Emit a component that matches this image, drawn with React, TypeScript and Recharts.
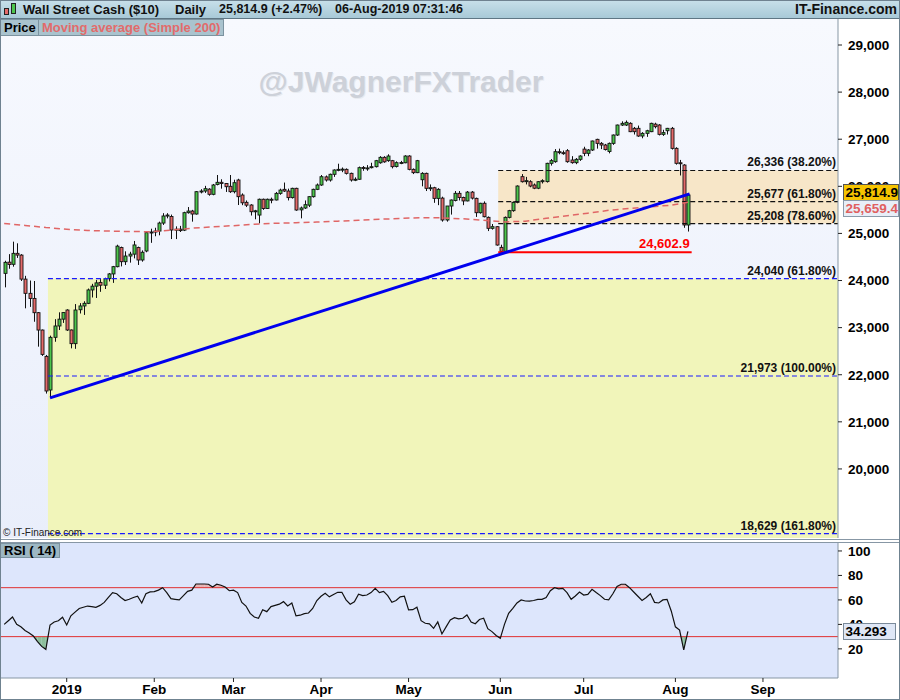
import React from 'react';
import { ComposedChart, Bar, Line, XAxis, YAxis, ReferenceLine, ReferenceArea } from 'recharts';

// Wall Street Cash daily, one row per trading day (10-Dec-2018 .. 06-Aug-2019)
// [open, high, low, close]
const candles: [number, number, number, number][] = [
  [24152, 24420, 23855, 24386], [24390, 24560, 24250, 24340], [24344, 24825, 24294, 24577], [24577, 24790, 24480, 24540],
  [24540, 24560, 23990, 24030], [24030, 24100, 23410, 23728], [23728, 24000, 23440, 23620], [23620, 23990, 23125, 23317],
  [23317, 23330, 22596, 22949], [22949, 22960, 22400, 22432], [22390, 22420, 21600, 21655], [21676, 22830, 21510, 22794],
  [22794, 23180, 22700, 23035], [23035, 23325, 22950, 23180], [23180, 23330, 23100, 23320],
  [23374, 23390, 22930, 22950], [22950, 22960, 22560, 22660], [22660, 23500, 22550, 23374], [23380, 23520, 23300, 23460],
  [23460, 23560, 23270, 23516], [23516, 23830, 23500, 23800], [23800, 23930, 23640, 23880], [23880, 24011, 23630, 23950],
  [23960, 24030, 23760, 23900], [23900, 24060, 23820, 24040], [24040, 24160, 23980, 24140], [24140, 24310, 23950, 24294],
  [24294, 24760, 24280, 24730], [24700, 24720, 24300, 24400], [24400, 24620, 24330, 24520], [24520, 24610, 24380, 24560],
  [24560, 24840, 24470, 24755], [24700, 24720, 24330, 24436], [24436, 24640, 24400, 24600], [24627, 25040, 24600, 25016],
  [25030, 25100, 24800, 25010],
  [25030, 25120, 24940, 25050], [25050, 25250, 24960, 25220], [25220, 25430, 25180, 25370], [25370, 25430, 25320, 25390],
  [25360, 25400, 24880, 25072], [25072, 25150, 24880, 25090], [25090, 25160, 25030, 25060], [25070, 25460, 25050, 25440],
  [25440, 25560, 25420, 25475], [25475, 25500, 25250, 25412], [25412, 25900, 25400, 25886], [25886, 25940, 25850, 25900],
  [25900, 26010, 25860, 25950], [25940, 25960, 25800, 25830], [25830, 26050, 25810, 26028], [26040, 26240, 26020, 26085],
  [26085, 26150, 25950, 26060], [26060, 26070, 25880, 25992], [26000, 26240, 25860, 25886],
  [25886, 26140, 25850, 26077], [26134, 26160, 25603, 25780], [25815, 25850, 25600, 25650], [25660, 25700, 25560, 25600],
  [25603, 25620, 25380, 25461], [25461, 25500, 25300, 25480], [25390, 25740, 25214, 25725], [25725, 25740, 25500, 25530],
  [25530, 25740, 25520, 25725], [25725, 25760, 25640, 25710], [25710, 25880, 25700, 25850], [25850, 25950, 25820, 25920],
  [25936, 26080, 25880, 25900], [25900, 25950, 25700, 25760], [25760, 25970, 25740, 25957], [25957, 25970, 25480, 25497],
  [25500, 25570, 25320, 25540], [25540, 25700, 25520, 25610], [25600, 25790, 25560, 25780], [25780, 25950, 25760, 25936],
  [25936, 26060, 25920, 26028],
  [26028, 26240, 26010, 26204], [26200, 26230, 26100, 26134], [26134, 26270, 26100, 26255], [26255, 26360, 26200, 26346],
  [26346, 26480, 26320, 26360], [26360, 26400, 26300, 26365], [26360, 26380, 26250, 26275], [26275, 26290, 26100, 26134],
  [26140, 26190, 26110, 26150], [26150, 26420, 26140, 26396], [26400, 26430, 26330, 26380], [26380, 26450, 26330, 26390],
  [26400, 26500, 26380, 26417], [26417, 26560, 26400, 26544], [26500, 26640, 26480, 26615], [26615, 26640, 26500, 26520],
  [26545, 26680, 26520, 26643], [26544, 26560, 26380, 26417], [26420, 26530, 26400, 26502], [26500, 26540, 26470, 26505],
  [26500, 26660, 26490, 26643],
  [26643, 26660, 26340, 26360], [26360, 26380, 26260, 26290], [26290, 26560, 26280, 26544], [26140, 26300, 26000, 26275],
  [26275, 26290, 25900, 25957], [25957, 26040, 25900, 25970], [25970, 25990, 25650, 25744], [25744, 25960, 25600, 25936],
  [25750, 25780, 25250, 25285], [25285, 25580, 25250, 25582], [25582, 25720, 25400, 25709], [25700, 25900, 25680, 25851],
  [25851, 25900, 25700, 25764], [25764, 25780, 25600, 25690], [25690, 25900, 25680, 25877], [25877, 25900, 25720, 25750],
  [25744, 25760, 25350, 25440], [25440, 25650, 25420, 25640], [25640, 25680, 25340, 25355], [25341, 25360, 25050, 25108],
  [25108, 25200, 25080, 25143], [25143, 25150, 24740, 24754],
  [24704, 24760, 24602.9, 24620], [24620, 25360, 24600, 25341], [25341, 25500, 25320, 25483], [25483, 25680, 25460, 25660],
  [25660, 26020, 25640, 26006], [26205, 26260, 26080, 26098], [26110, 26200, 26040, 26120], [26098, 26130, 25980, 26006],
  [26028, 26060, 25940, 25960], [25960, 26110, 25940, 26098], [26098, 26150, 26060, 26120], [26100, 26500, 26080, 26488],
  [26488, 26580, 26440, 26545], [26523, 26790, 26500, 26735], [26735, 26800, 26680, 26714], [26714, 26760, 26670, 26700],
  [26756, 26790, 26500, 26523], [26558, 26640, 26480, 26502], [26502, 26600, 26470, 26573], [26573, 26660, 26540, 26643],
  [26790, 26840, 26640, 26700], [26700, 26790, 26640, 26771], [26771, 26970, 26750, 26962], [26997, 27010, 26800, 26912],
  [26912, 26940, 26790, 26877], [26877, 26900, 26760, 26780], [26740, 26930, 26700, 26912], [26912, 27100, 26880, 27089],
  [27089, 27310, 27070, 27301], [27301, 27380, 27280, 27337], [27301, 27398, 27280, 27358], [27337, 27360, 27150, 27160],
  [27231, 27260, 27100, 27160], [27231, 27290, 27050, 27068], [27068, 27150, 27020, 27124], [27124, 27200, 27050, 27180],
  [27160, 27350, 27150, 27337], [27320, 27350, 27230, 27266], [27301, 27320, 27080, 27103], [27103, 27200, 27070, 27140],
  [27180, 27240, 27100, 27231], [27231, 27260, 26780, 26806],
  [26806, 26830, 26460, 26488], [26500, 26560, 26230, 26480], [26452, 26470, 25120, 25179], [25179, 25830, 25040, 25814.9],
];

// RSI(14), one value per candle
const rsi14 = [
  40, 43, 46, 40, 38, 35, 33, 30.5, 26, 22, 19.6, 39.5, 42, 43, 45.8,
  39.5, 47, 50, 53, 54, 55, 54.5, 54, 55.5, 58, 62, 66, 65, 62, 59.5, 60.5, 62, 63, 57.5, 65, 66.5,
  66.8, 68, 70, 66, 61, 60.5, 60, 63.5, 67, 68, 73, 73, 73, 72.8, 70.5, 72.8, 72, 70.5, 67.5,
  68, 66, 58, 55, 49, 46, 45, 52, 50.4, 54.5, 55.5, 56.5, 58.6, 55, 57.5, 47, 47.5, 48.8, 49.3, 53, 59.5,
  63, 65.4, 62.5, 64.5, 66.2, 66.2, 60, 56.5, 58.5, 64.6, 63.5, 64, 66, 69.5, 66, 67, 63.5, 58, 59.5, 62.5, 63,
  51.8, 52, 54, 43, 40.9, 40.5, 36.8, 42, 32.2, 38, 43.6, 45.5, 44.5, 45, 47.7, 42, 40.5, 44, 45, 36.5, 34.1, 31,
  28.6, 40, 49, 53, 57.5, 60, 59.1, 59, 59.5, 60.5, 60.5, 62, 67.5, 70, 69, 69.5, 66, 60.5, 63.2, 66.5,
  64, 64.5, 68.7, 66, 63.5, 60.5, 60, 65, 71, 72.8, 72.8, 70, 66.5, 63, 59.5, 62, 65, 58, 57.5, 60, 60.5, 51,
  38, 35.4, 19.1, 34.293,
];

// simple moving average 200, read every fifth bar: [bar, value]
const ma200: [number, number][] = [
  [0, 25210], [5, 25170], [10, 25125], [15, 25090], [20, 25062], [25, 25050], [30, 25040], [35, 25037],
  [40, 25070], [45, 25110], [50, 25140], [55, 25165], [60, 25195], [65, 25215], [70, 25227], [75, 25240],
  [80, 25260], [85, 25280], [90, 25300], [95, 25318], [100, 25335], [105, 25330], [110, 25310], [115, 25280],
  [120, 25245], [125, 25260], [130, 25320], [135, 25375], [140, 25430], [145, 25490], [150, 25530],
  [155, 25565], [160, 25600], [164, 25659.4],
];

const monthBars = [15, 36, 55, 76, 97, 119, 139, 161, 182];
const monthLabels = ['2019', 'Feb', 'Mar', 'Apr', 'May', 'Jun', 'Jul', 'Aug', 'Sep'];
const priceTicks = [20000, 21000, 22000, 23000, 24000, 25000, 26000, 27000, 28000, 29000];
const rsiTicks = [20, 40, 60, 80, 100];
const rsiBands = [30, 70];

// fibonacci sets: anchored at the Dec low (bar 11) and the Jun low (bar 119)
const extLevels = [24040, 21973, 18629];
const extLabels = ['24,040 (61.80%)', '21,973 (100.00%)', '18,629 (161.80%)'];
const retLevels = [26336, 25677, 25208];
const retLabels = ['26,336 (38.20%)', '25,677 (61.80%)', '25,208 (78.60%)'];
const decLowBar = 11;
const junLowBar = 119;
const junLow = 24602.9;
const trendEnd: [number, number] = [164.4, 25840];

const FONT = "'Liberation Sans', Arial, sans-serif";
const GREEN = '#4cc54c';
const RED = '#e46a6a';
const X_DOMAIN: [number, number] = [-1, 200];
const P_DOMAIN: [number, number] = [18534, 29552];
const R_DOMAIN: [number, number] = [-3.8, 106.5];

const fmt = (v: number) => v.toLocaleString('en-US');

const Candle = (props: any) => {
  const { x, y, width, height, payload } = props;
  if (!payload || y == null) return null;
  const cx = Math.round(x + width / 2) + 0.5;
  const span = payload.h - payload.l;
  const k = span > 0 ? height / span : 0;
  const yo = y + (payload.h - payload.o) * k;
  const yc = y + (payload.h - payload.c) * k;
  const top = Math.min(yo, yc);
  const bh = Math.max(Math.abs(yo - yc), 1);
  return (
    <g>
      <line x1={cx} x2={cx} y1={y} y2={y + height} stroke="#111" strokeWidth={1} />
      <rect x={cx - 1.5} y={top} width={3} height={bh} fill={payload.c >= payload.o ? GREEN : RED} stroke="#111" strokeWidth={0.9} />
    </g>
  );
};

// one RSI step (bar i to i+1) shaded between the line and a band level.
// the reference area spans [band, extreme] so its rect gives the pixel scale.
const ShadeShape = (props: any) => {
  const { x, y, width, height, r0, r1, level, sign, color } = props;
  if (x == null || y == null || !(width > 0)) return null;
  const ext = sign < 0 ? Math.min(r0, r1) : Math.max(r0, r1);
  const hiV = Math.max(level, ext);
  const loV = Math.min(level, ext);
  if (hiV - loV <= 0) return null;
  const k = height / (hiV - loV);
  const py = (v: number) => y + (hiV - v) * k;
  const b0 = sign * (r0 - level) > 0;
  const b1 = sign * (r1 - level) > 0;
  const x0 = x;
  const x1 = x + width;
  let pts: [number, number][];
  if (b0 && b1) pts = [[x0, py(level)], [x0, py(r0)], [x1, py(r1)], [x1, py(level)]];
  else if (b0) {
    const xc = x0 + ((r0 - level) / (r0 - r1)) * width;
    pts = [[x0, py(level)], [x0, py(r0)], [xc, py(level)]];
  } else {
    const xc = x0 + ((level - r0) / (r1 - r0)) * width;
    pts = [[xc, py(level)], [x1, py(r1)], [x1, py(level)]];
  }
  return <polygon points={pts.map((p) => p.join(',')).join(' ')} fill={color} stroke="none" />;
};

const LevelLabel = (props: any) => {
  const { viewBox, text, color = '#111', size = 12, dy = -4 } = props;
  if (!viewBox) return null;
  return (
    <text x={viewBox.x + viewBox.width - 2} y={viewBox.y + dy} textAnchor="end" fontSize={size} fontWeight="bold" fill={color} fontFamily={FONT}>
      {text}
    </text>
  );
};

const Tag = (props: any) => {
  const { viewBox, text, bg, color, border, dy = 0, w = 55 } = props;
  if (!viewBox) return null;
  const x = viewBox.x + viewBox.width + 5;
  const y = viewBox.y + dy;
  return (
    <g>
      <rect x={x + 0.5} y={Math.round(y - 8) + 0.5} width={w} height={16} fill={bg} stroke={border} />
      <text x={x + 2.5} y={Math.round(y - 8) + 13} fontSize={13.5} fontWeight="bold" fill={color} fontFamily={FONT}>{text}</text>
    </g>
  );
};

const abs = (l: number, t: number, extra: React.CSSProperties = {}): React.CSSProperties => ({ position: 'absolute', left: l, top: t, ...extra });

const axisTick = { fontSize: 13.5, fontWeight: 'bold', fill: '#000', fontFamily: FONT };

export default function App() {
  const maMap = new Map(ma200.map(([b, v]) => [b, v]));
  const rows = candles.map(([o, h, l, c], i) => ({
    i, o, h, l, c,
    range: [l, h],
    ma: maMap.has(i) ? maMap.get(i) : null,
  }));
  const rsiRows = rsi14.map((r, i) => ({ i, rsi: r }));

  // steps of the RSI that go beyond 30 (down) or 70 (up)
  const shades: { i: number; r0: number; r1: number; level: number; sign: number; color: string }[] = [];
  for (let i = 0; i + 1 < rsi14.length; i++) {
    const r0 = rsi14[i];
    const r1 = rsi14[i + 1];
    if (r0 < rsiBands[0] || r1 < rsiBands[0]) shades.push({ i, r0, r1, level: rsiBands[0], sign: -1, color: '#8cbf9c' });
    if (r0 > rsiBands[1] || r1 > rsiBands[1]) shades.push({ i, r0, r1, level: rsiBands[1], sign: 1, color: '#e7b4b4' });
  }

  const last = candles[candles.length - 1][3];
  const lastMa = ma200[ma200.length - 1][1];
  const lastRsi = rsi14[rsi14.length - 1];
  const hdr: React.CSSProperties = { fontSize: 13, fontWeight: 'bold', lineHeight: '19px', color: '#111', whiteSpace: 'nowrap' };
  const hdrNum: React.CSSProperties = { ...hdr, fontSize: 12.5 };

  return (
    <div style={{ position: 'absolute', left: 0, top: 0, width: 900, height: 700, background: '#fff', overflow: 'hidden', fontFamily: FONT }}>
      {/* panel backgrounds */}
      <div style={abs(0, 19, { width: 838, height: 519, background: 'linear-gradient(#f7f9fe, #e9eefb)' })} />
      <div style={abs(0, 543, { width: 838, height: 135, background: '#dde6fc' })} />
      <div style={abs(0, 539, { width: 900, height: 1, background: '#8797a5' })} />
      <div style={abs(0, 542, { width: 900, height: 1, background: '#8797a5' })} />

      <div style={abs(0, 19)}>
        <ComposedChart width={900} height={519} data={rows} margin={{ top: 0, right: 0, bottom: 0, left: 0 }}>
          <XAxis type="number" dataKey="i" domain={X_DOMAIN} allowDataOverflow hide />
          <YAxis orientation="right" width={62} domain={P_DOMAIN} allowDataOverflow ticks={priceTicks} tickFormatter={fmt}
            tick={axisTick} tickSize={4} tickMargin={6} tickLine={{ stroke: '#222' }} axisLine={{ stroke: '#8797a5' }} />
          <ReferenceArea x1={decLowBar - 0.5} x2={X_DOMAIN[1]} y1={P_DOMAIN[0]} y2={extLevels[0]} fill="#f1f5ba" fillOpacity={1} stroke="none" ifOverflow="hidden" />
          <ReferenceArea x1={junLowBar - 0.5} x2={X_DOMAIN[1]} y1={retLevels[2]} y2={retLevels[0]} fill="#f7e6c8" fillOpacity={1} stroke="none" />
          {extLevels.map((v, k) => (
            <ReferenceLine key={'e' + k} segment={[{ x: decLowBar - 0.5, y: v }, { x: X_DOMAIN[1], y: v }]} stroke="#1a1aff" strokeWidth={1.2} strokeDasharray="5 3"
              label={<LevelLabel text={extLabels[k]} />} />
          ))}
          {retLevels.map((v, k) => (
            <ReferenceLine key={'r' + k} segment={[{ x: junLowBar - 0.5, y: v }, { x: X_DOMAIN[1], y: v }]} stroke="#111" strokeWidth={1.2} strokeDasharray="5 3"
              label={<LevelLabel text={retLabels[k]} />} />
          ))}
          <Line dataKey="ma" stroke="#e06666" strokeWidth={1.5} strokeDasharray="6 4" dot={false} connectNulls isAnimationActive={false} />
          <Bar dataKey="range" barSize={3} shape={<Candle />} isAnimationActive={false} />
          <ReferenceLine segment={[{ x: junLowBar - 0.5, y: junLow }, { x: trendEnd[0] + 0.5, y: junLow }]} stroke="#ff0000" strokeWidth={2}
            label={<LevelLabel text={fmt(junLow)} color="#ff0000" size={13} dy={-4} />} />
          <ReferenceLine segment={[{ x: decLowBar, y: candles[decLowBar][2] }, { x: trendEnd[0], y: trendEnd[1] }]} stroke="#0000ee" strokeWidth={3} />
        </ComposedChart>
      </div>
      {/* last-value tags, drawn above the axis labels */}
      <div style={abs(0, 19)}>
        <ComposedChart width={900} height={519} data={rows} margin={{ top: 0, right: 62, bottom: 0, left: 0 }}>
          <XAxis type="number" dataKey="i" domain={X_DOMAIN} allowDataOverflow hide />
          <YAxis domain={P_DOMAIN} allowDataOverflow hide />
          <ReferenceLine y={last} stroke="none" label={<Tag text={fmt(last)} bg="#f6c400" color="#000" border="#555" dy={-3} />} />
          <ReferenceLine y={lastMa} stroke="none" label={<Tag text={fmt(lastMa)} bg="#e8eef8" color="#e06060" border="#8a9aaa" dy={6} />} />
        </ComposedChart>
      </div>

      {/* RSI overbought / oversold shading, drawn under the RSI line */}
      <div style={abs(0, 543)}>
        <ComposedChart width={900} height={135} data={rsiRows} margin={{ top: 0, right: 62, bottom: 0, left: 0 }}>
          <XAxis type="number" dataKey="i" domain={X_DOMAIN} allowDataOverflow hide />
          <YAxis domain={R_DOMAIN} allowDataOverflow hide />
          {shades.map((s, k) => (
            <ReferenceArea key={'s' + k} x1={s.i} x2={s.i + 1} y1={s.level}
              y2={s.sign < 0 ? Math.min(s.r0, s.r1) : Math.max(s.r0, s.r1)} ifOverflow="visible"
              shape={<ShadeShape r0={s.r0} r1={s.r1} level={s.level} sign={s.sign} color={s.color} />} />
          ))}
        </ComposedChart>
      </div>
      <div style={abs(0, 543)}>
        <ComposedChart width={900} height={157} data={rsiRows} margin={{ top: 0, right: 0, bottom: 0, left: 0 }}>
          <XAxis type="number" dataKey="i" domain={X_DOMAIN} ticks={monthBars}
            tickFormatter={(v: number) => monthLabels[monthBars.indexOf(v)] ?? ''} height={22} interval={0}
            tick={axisTick} tickSize={4} tickMargin={2} tickLine={{ stroke: '#222' }} axisLine={{ stroke: '#8797a5' }} />
          <YAxis orientation="right" width={62} domain={R_DOMAIN} ticks={rsiTicks}
            tick={axisTick} tickSize={4} tickMargin={6} tickLine={{ stroke: '#222' }} axisLine={{ stroke: '#8797a5' }} />
          {rsiBands.map((b) => (
            <ReferenceLine key={b} y={b} stroke="#e03030" strokeWidth={1} />
          ))}
          <Line dataKey="rsi" stroke="#111" strokeWidth={1.2} dot={false} isAnimationActive={false} />
        </ComposedChart>
      </div>
      <div style={abs(0, 543)}>
        <ComposedChart width={900} height={135} data={rsiRows} margin={{ top: 0, right: 62, bottom: 0, left: 0 }}>
          <XAxis type="number" dataKey="i" domain={X_DOMAIN} allowDataOverflow hide />
          <YAxis domain={R_DOMAIN} allowDataOverflow hide />
          <ReferenceLine y={lastRsi} stroke="none" label={<Tag text={lastRsi.toFixed(3)} bg="#dfe7f6" color="#000" border="#7a8a9a" dy={-0.5} w={52} />} />
        </ComposedChart>
      </div>

      {/* header */}
      <div style={abs(0, 0, { width: 900, height: 19, background: 'linear-gradient(#c8e0ea, #a8c9d7)', borderBottom: '1px solid #5f7684', boxSizing: 'border-box' })} />
      <div style={abs(4, 8, { width: 5, height: 7, background: '#e46a6a', border: '1px solid #222', boxSizing: 'border-box' })} />
      <div style={abs(11, 3, { width: 5, height: 11, background: '#4cc54c', border: '1px solid #222', boxSizing: 'border-box' })} />
      <div style={abs(23, 0, hdr)}>Wall Street Cash ($10)</div>
      <div style={abs(175, 0, hdr)}>Daily</div>
      <div style={abs(219, 0, hdrNum)}>25,814.9 (+2.47%)</div>
      <div style={abs(335, 0, hdrNum)}>06-Aug-2019 07:31:46</div>
      <div style={abs(0, 0, { ...hdr, fontSize: 14, width: 897, textAlign: 'right' })}>IT-Finance.com</div>

      {/* legend */}
      <div style={abs(0, 19, { height: 17, padding: '0 3px', background: '#a9c3ce', border: '1px solid #7c93a0', boxSizing: 'border-box', fontSize: 13, fontWeight: 'bold', lineHeight: '16px', color: '#000' })}>Price</div>
      <div style={abs(38, 19, { height: 17, padding: '0 3px', background: '#a9c3ce', border: '1px solid #7c93a0', boxSizing: 'border-box', fontSize: 13, fontWeight: 'bold', lineHeight: '16px', color: '#e26b6b' })}>Moving average (Simple 200)</div>
      <div style={abs(0, 543, { height: 15, padding: '0 3px', background: '#9db7c3', border: '1px solid #7c93a0', boxSizing: 'border-box', fontSize: 13, fontWeight: 'bold', lineHeight: '14px', color: '#000' })}>RSI ( 14)</div>

      {/* watermark */}
      <div style={abs(0, 65, { width: 802, textAlign: 'center', fontSize: 30, fontWeight: 'bold', color: '#cdd1d9', textShadow: '1px 1px 0 #e8ebf0', whiteSpace: 'nowrap' })}>@JWagnerFXTrader</div>
      <div style={abs(3, 527, { fontSize: 10, color: '#222', lineHeight: '11px' })}>© IT-Finance.com</div>

      {/* frame */}
      <div style={abs(0, 0, { width: 900, height: 700, border: '1px solid #6f8290', boxSizing: 'border-box', pointerEvents: 'none' })} />
    </div>
  );
}
